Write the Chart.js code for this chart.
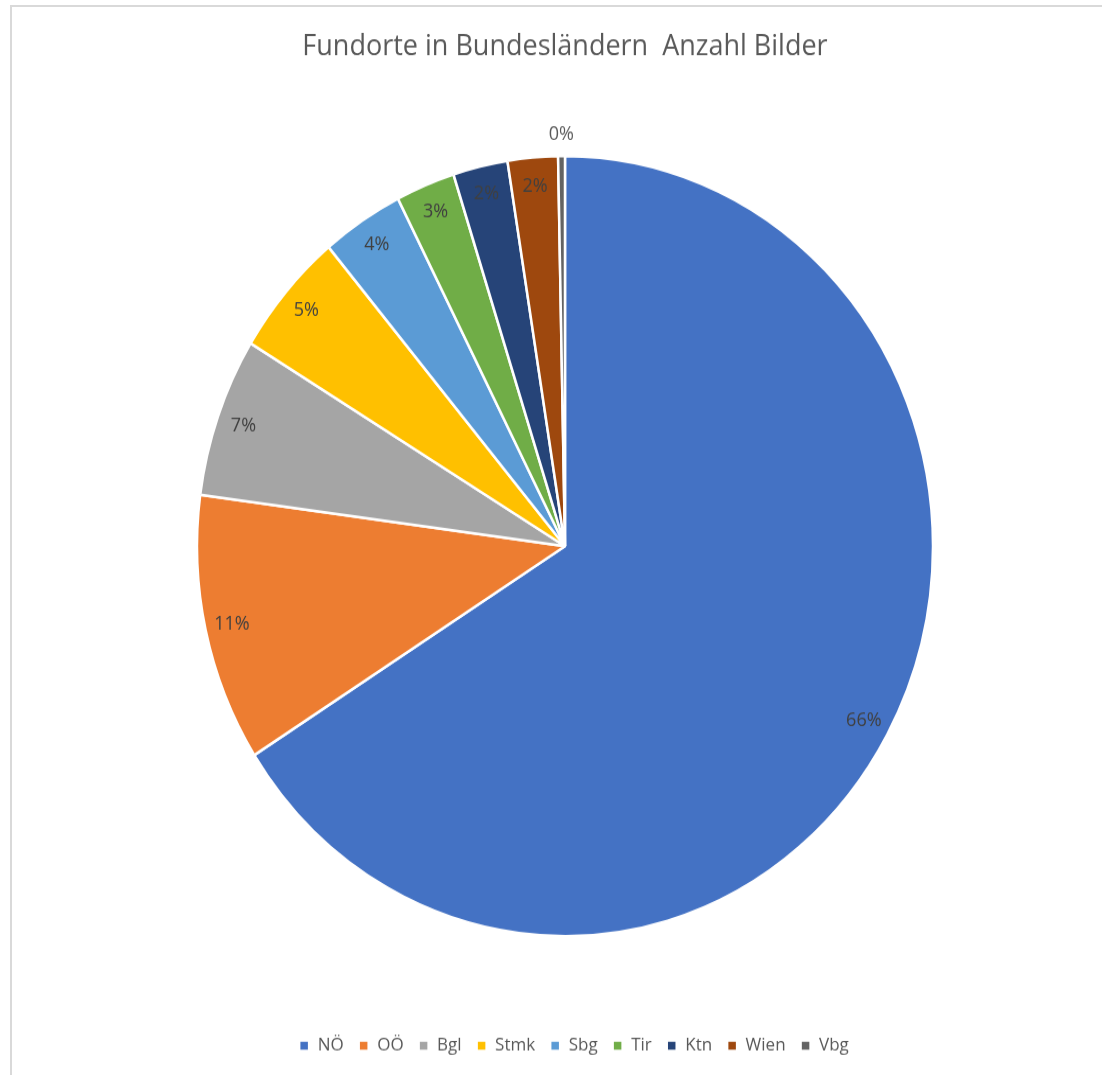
<!DOCTYPE html>
<html>
<head>
<meta charset="utf-8">
<script src="https://cdn.jsdelivr.net/npm/chart.js@4/dist/chart.umd.min.js"></script>
<style>
  body { margin: 0; background: #fff; overflow: hidden; }
  #frame { position: absolute; left: 10px; top: 5px; width: 1200px; height: 1200px;
           border-left: 2px solid #d9d9d9; border-top: 2px solid #d9d9d9; }
  #wrap { position: absolute; left: 0; top: 0; width: 1102px; height: 1014px;
          transform: scaleY(1.06); transform-origin: 0 0; }
</style>
</head>
<body>
<div id="frame"></div>
<div id="wrap"><canvas id="chart"></canvas></div>
<script>
// Fundorte je Bundesland (Anteile)
var laender = ["NÖ", "OÖ", "Bgl", "Stmk", "Sbg", "Tir", "Ktn", "Wien", "Vbg"];
var bilder = [660, 111, 66, 52, 36, 26, 24, 22, 3];
var farben = ["#4472C4", "#ED7D31", "#A5A5A5", "#FFC000", "#5B9BD5",
              "#70AD47", "#264478", "#9E480E", "#636363"];

// Prozent-Beschriftung wie in Excel, nahe am Rand
var prozentLabels = {
    id: 'prozentLabels',
    afterLayout: function(chart) {
        // Legende etwas nach rechts, wie im Original
        chart.legend.left += 9;
        chart.legend.right += 9;
    },
    afterDatasetsDraw: function(chart) {
        var ctx = chart.ctx;
        var meta = chart.getDatasetMeta(0);
        var summe = bilder.reduce(function(a, b) { return a + b; }, 0);
        ctx.save();
        ctx.font = '18px "Open Sans"';
        ctx.textAlign = 'center';
        ctx.textBaseline = 'middle';
        meta.data.forEach(function(arc, i) {
            var p = arc.getProps(['x', 'y', 'startAngle', 'endAngle', 'outerRadius'], true);
            var mitte = (p.startAngle + p.endAngle) / 2;
            var r = p.outerRadius - 27;
            ctx.fillStyle = '#404040';
            if (bilder[i] / summe < 0.01) {
                r = p.outerRadius + 20;
                ctx.fillStyle = '#595959';
            }
            var txt = Math.round(bilder[i] / summe * 100) + '%';
            ctx.fillText(txt, p.x + Math.cos(mitte) * r, p.y + Math.sin(mitte) * r);
        });
        ctx.restore();
    }
};

var ctx = document.getElementById('chart').getContext('2d');
var myChart = new Chart(ctx, {
    type: 'pie',
    data: {
        labels: laender,
        datasets: [{
            data: bilder,
            backgroundColor: farben,
            borderColor: '#ffffff',
            borderWidth: 2.5,
            radius: 368
        }]
    },
    options: {
        responsive: true,
        maintainAspectRatio: false,
        animation: false,
        layout: { padding: { left: 28, right: 0, top: 0, bottom: 9 } },
        plugins: {
            title: {
                display: true,
                text: 'Fundorte in Bundesländern  Anzahl Bilder',
                color: '#595959',
                font: { family: '"Open Sans"', size: 27, weight: 'normal' },
                padding: { top: 28, bottom: 7 }
            },
            legend: {
                position: 'bottom',
                labels: {
                    color: '#595959',
                    font: { family: '"Open Sans"', size: 17 },
                    boxWidth: 10,
                    boxHeight: 10,
                    padding: 15
                }
            },
            tooltip: { enabled: false }
        }
    },
    plugins: [prozentLabels]
});
</script>
</body>
</html>
